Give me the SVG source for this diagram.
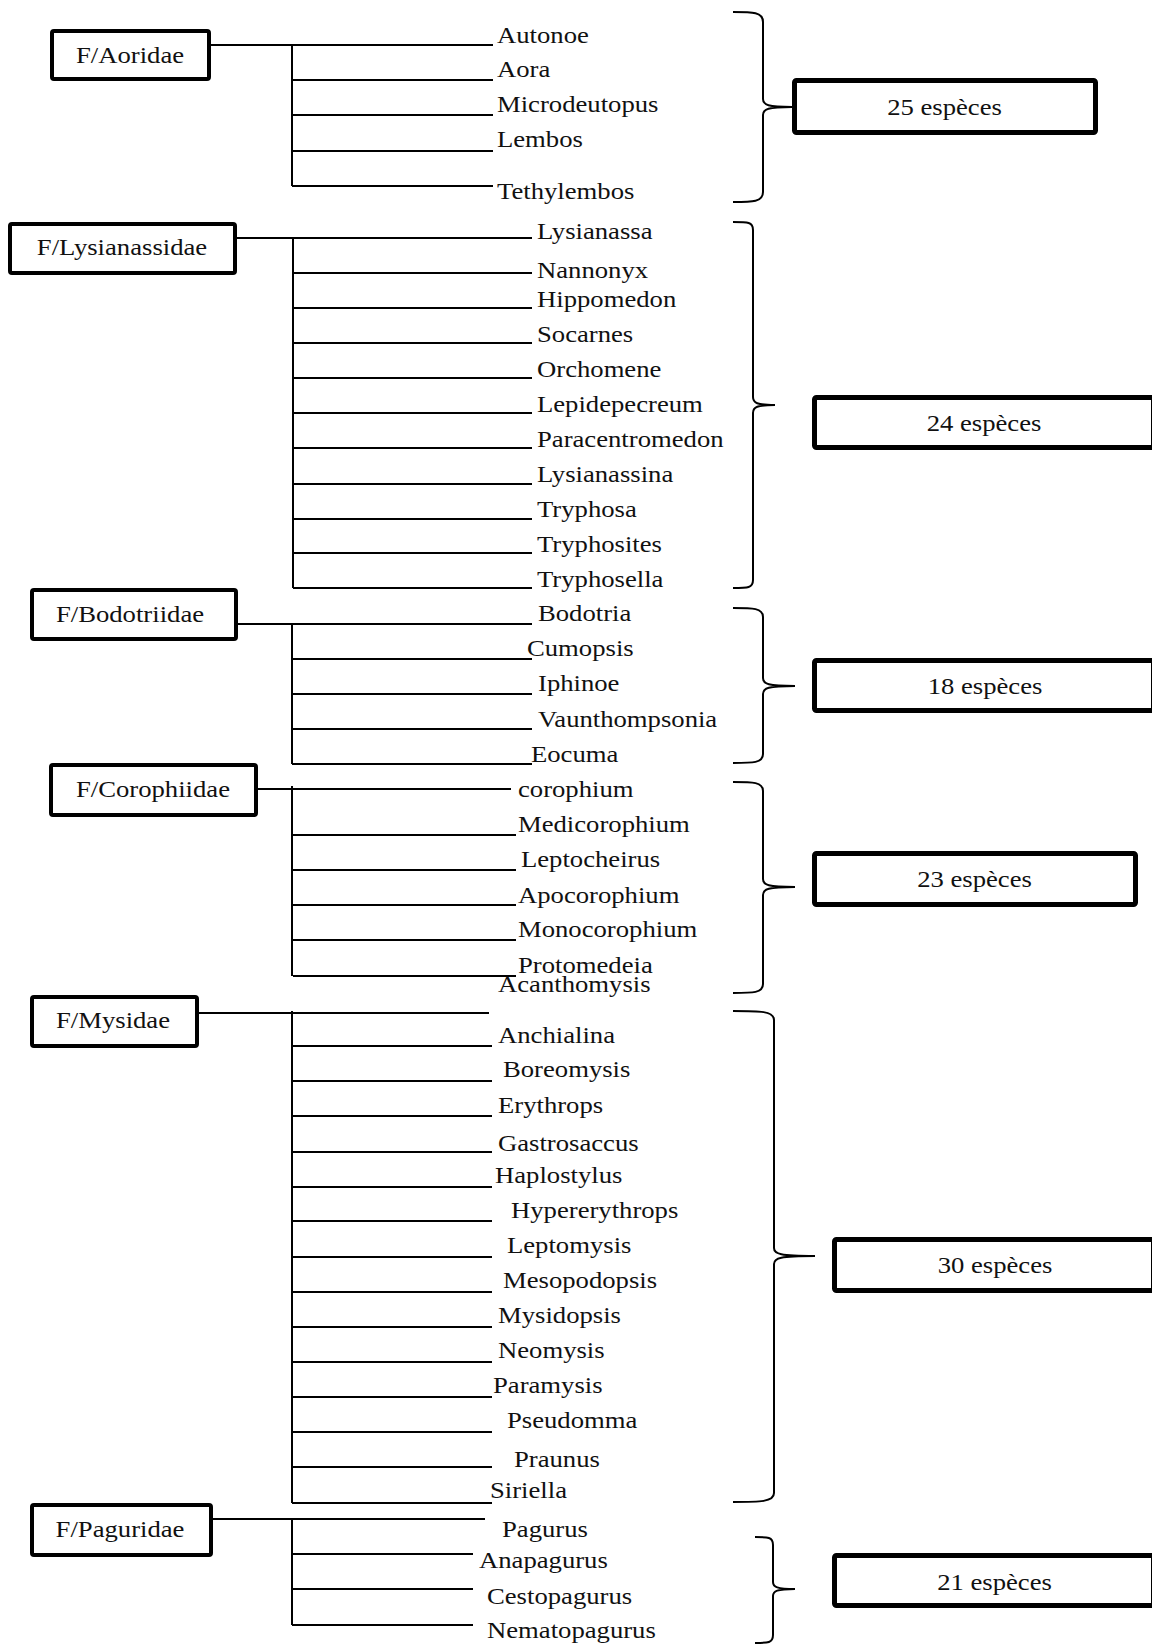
<svg xmlns="http://www.w3.org/2000/svg" width="1152" height="1645" viewBox="0 0 1152 1645">
<style>
.t{font-family:"Liberation Serif","Times New Roman",serif;font-size:23px;fill:#111}
.c{text-anchor:middle}
.fam{fill:#fff;stroke:#000;stroke-width:4}
.cnt{fill:#fff;stroke:#000;stroke-width:5}
.ln{stroke:#000;stroke-width:2;fill:none}
.br{stroke:#000;stroke-width:2;fill:none}
</style>
<rect width="1152" height="1645" fill="#fff"/>
<g id="connectors">
<path class="ln" d="M211,45H493M292,45V186M292,80H493M292,115H493M292,151H493M292,186H493"/>
<path class="ln" d="M237,238H532M293,238V588M293,273H532M293,308H532M293,343H532M293,378H532M293,413H532M293,448H532M293,484H532M293,519H532M293,553H532M293,588H532"/>
<path class="ln" d="M233,624H532M292,624V764M292,659H532M292,694H532M292,729H532M292,764H532"/>
<path class="ln" d="M258,789H511M292,786V976M293,835H516M293,870H516M293,905H516M293,940H516M293,976H516"/>
<path class="ln" d="M199,1013H489M292,1011V1503M292,1046H492M292,1081H492M292,1116H492M292,1152H492M292,1187H492M292,1221H492M292,1257H492M292,1292H492M292,1327H492M292,1362H492M292,1397H492M292,1432H492M292,1467H492M292,1503H492"/>
<path class="ln" d="M213,1519H485M292,1519V1625M292,1554H473M292,1589H473M292,1625H473"/>
<path class="br" d="M733,12C753,12 763,12 763,22L763,99C763,105 768,107 792,107C768,107 763,109 763,115L763,192C763,202 753,202 733,202"/>
<path class="br" d="M733,222C748,222 753,222 753,230L753,397C753,403 757,405 775,405C757,405 753,407 753,413L753,580C753,588 748,588 733,588"/>
<path class="br" d="M733,608C753,608 763,608 763,617L763,678C763,684 768,686 795,686C768,686 763,688 763,694L763,754C763,763 753,763 733,763"/>
<path class="br" d="M733,782C753,782 763,782 763,791L763,879C763,885 768,887 795,887C768,887 763,889 763,895L763,984C763,993 753,993 733,993"/>
<path class="br" d="M733,1011C760,1011 774,1011 774,1020L774,1248C774,1254 780,1256 815,1256C780,1256 774,1258 774,1264L774,1493C774,1502 760,1502 733,1502"/>
<path class="br" d="M755,1537C768,1537 773,1537 773,1545L773,1582C773,1587 777,1589 795,1589C777,1589 773,1591 773,1596L773,1635C773,1643 768,1643 755,1643"/>
</g>
<g id="aoridae">
<rect class="fam" x="52" y="31" width="157" height="48" rx="2"/>
<text class="t c" transform="translate(130 63) scale(1.16 1)">F/Aoridae</text>
</g>
<g id="aoridae-genera">
<text class="t" transform="translate(497 43) scale(1.16 1)">Autonoe</text>
<text class="t" transform="translate(497 77) scale(1.16 1)">Aora</text>
<text class="t" transform="translate(497 112) scale(1.16 1)">Microdeutopus</text>
<text class="t" transform="translate(497 147) scale(1.16 1)">Lembos</text>
<text class="t" transform="translate(497 199) scale(1.16 1)">Tethylembos</text>
</g>
<g id="count-25">
<rect class="cnt" x="794.5" y="80.5" width="301" height="52" rx="2"/>
<text class="t c" transform="translate(944.5 115) scale(1.16 1)">25 espèces</text>
</g>
<g id="lysianassidae">
<rect class="fam" x="10" y="224" width="225" height="49" rx="2"/>
<text class="t c" transform="translate(122 255) scale(1.16 1)">F/Lysianassidae</text>
</g>
<g id="lysianassidae-genera">
<text class="t" transform="translate(537 239) scale(1.16 1)">Lysianassa</text>
<text class="t" transform="translate(537 278) scale(1.16 1)">Nannonyx</text>
<text class="t" transform="translate(537 307) scale(1.16 1)">Hippomedon</text>
<text class="t" transform="translate(537 342) scale(1.16 1)">Socarnes</text>
<text class="t" transform="translate(537 377) scale(1.16 1)">Orchomene</text>
<text class="t" transform="translate(537 412) scale(1.16 1)">Lepidepecreum</text>
<text class="t" transform="translate(537 447) scale(1.16 1)">Paracentromedon</text>
<text class="t" transform="translate(537 482) scale(1.16 1)">Lysianassina</text>
<text class="t" transform="translate(537 517) scale(1.16 1)">Tryphosa</text>
<text class="t" transform="translate(537 552) scale(1.16 1)">Tryphosites</text>
<text class="t" transform="translate(537 587) scale(1.16 1)">Tryphosella</text>
</g>
<g id="count-24">
<rect class="cnt" x="814.5" y="397.5" width="339" height="50" rx="2"/>
<text class="t c" transform="translate(984 431) scale(1.16 1)">24 espèces</text>
</g>
<g id="bodotriidae">
<rect class="fam" x="32" y="590" width="204" height="49" rx="2"/>
<text class="t c" transform="translate(130 622) scale(1.16 1)">F/Bodotriidae</text>
</g>
<g id="bodotriidae-genera">
<text class="t" transform="translate(538 621) scale(1.16 1)">Bodotria</text>
<text class="t" transform="translate(527 656) scale(1.16 1)">Cumopsis</text>
<text class="t" transform="translate(538 691) scale(1.16 1)">Iphinoe</text>
<text class="t" transform="translate(538 727) scale(1.16 1)">Vaunthompsonia</text>
<text class="t" transform="translate(531 762) scale(1.16 1)">Eocuma</text>
</g>
<g id="count-18">
<rect class="cnt" x="814.5" y="660.5" width="339" height="50" rx="2"/>
<text class="t c" transform="translate(985 694) scale(1.16 1)">18 espèces</text>
</g>
<g id="corophiidae">
<rect class="fam" x="51" y="765" width="205" height="50" rx="2"/>
<text class="t c" transform="translate(153 797) scale(1.16 1)">F/Corophiidae</text>
</g>
<g id="corophiidae-genera">
<text class="t" transform="translate(518 797) scale(1.16 1)">corophium</text>
<text class="t" transform="translate(518 832) scale(1.16 1)">Medicorophium</text>
<text class="t" transform="translate(521 867) scale(1.16 1)">Leptocheirus</text>
<text class="t" transform="translate(518 903) scale(1.16 1)">Apocorophium</text>
<text class="t" transform="translate(518 937) scale(1.16 1)">Monocorophium</text>
<text class="t" transform="translate(518 973) scale(1.16 1)">Protomedeia</text>
<text class="t" transform="translate(498 992) scale(1.16 1)">Acanthomysis</text>
</g>
<g id="count-23">
<rect class="cnt" x="814.5" y="853.5" width="321" height="51" rx="2"/>
<text class="t c" transform="translate(974.5 887) scale(1.16 1)">23 espèces</text>
</g>
<g id="mysidae">
<rect class="fam" x="32" y="997" width="165" height="49" rx="2"/>
<text class="t c" transform="translate(113 1028) scale(1.16 1)">F/Mysidae</text>
</g>
<g id="mysidae-genera">
<text class="t" transform="translate(498 1043) scale(1.16 1)">Anchialina</text>
<text class="t" transform="translate(503 1077) scale(1.16 1)">Boreomysis</text>
<text class="t" transform="translate(498 1113) scale(1.16 1)">Erythrops</text>
<text class="t" transform="translate(498 1151) scale(1.16 1)">Gastrosaccus</text>
<text class="t" transform="translate(495 1183) scale(1.16 1)">Haplostylus</text>
<text class="t" transform="translate(511 1218) scale(1.16 1)">Hypererythrops</text>
<text class="t" transform="translate(507 1253) scale(1.16 1)">Leptomysis</text>
<text class="t" transform="translate(503 1288) scale(1.16 1)">Mesopodopsis</text>
<text class="t" transform="translate(498 1323) scale(1.16 1)">Mysidopsis</text>
<text class="t" transform="translate(498 1358) scale(1.16 1)">Neomysis</text>
<text class="t" transform="translate(493 1393) scale(1.16 1)">Paramysis</text>
<text class="t" transform="translate(507 1428) scale(1.16 1)">Pseudomma</text>
<text class="t" transform="translate(514 1467) scale(1.16 1)">Praunus</text>
<text class="t" transform="translate(490 1498) scale(1.16 1)">Siriella</text>
</g>
<g id="count-30">
<rect class="cnt" x="834.5" y="1239.5" width="319" height="51" rx="2"/>
<text class="t c" transform="translate(995 1273) scale(1.16 1)">30 espèces</text>
</g>
<g id="paguridae">
<rect class="fam" x="32" y="1505" width="179" height="50" rx="2"/>
<text class="t c" transform="translate(120 1537) scale(1.16 1)">F/Paguridae</text>
</g>
<g id="paguridae-genera">
<text class="t" transform="translate(502 1537) scale(1.16 1)">Pagurus</text>
<text class="t" transform="translate(479 1568) scale(1.16 1)">Anapagurus</text>
<text class="t" transform="translate(487 1604) scale(1.16 1)">Cestopagurus</text>
<text class="t" transform="translate(487 1638) scale(1.16 1)">Nematopagurus</text>
</g>
<g id="count-21">
<rect class="cnt" x="834.5" y="1555.5" width="319" height="50" rx="2"/>
<text class="t c" transform="translate(994.5 1590) scale(1.16 1)">21 espèces</text>
</g>
</svg>
